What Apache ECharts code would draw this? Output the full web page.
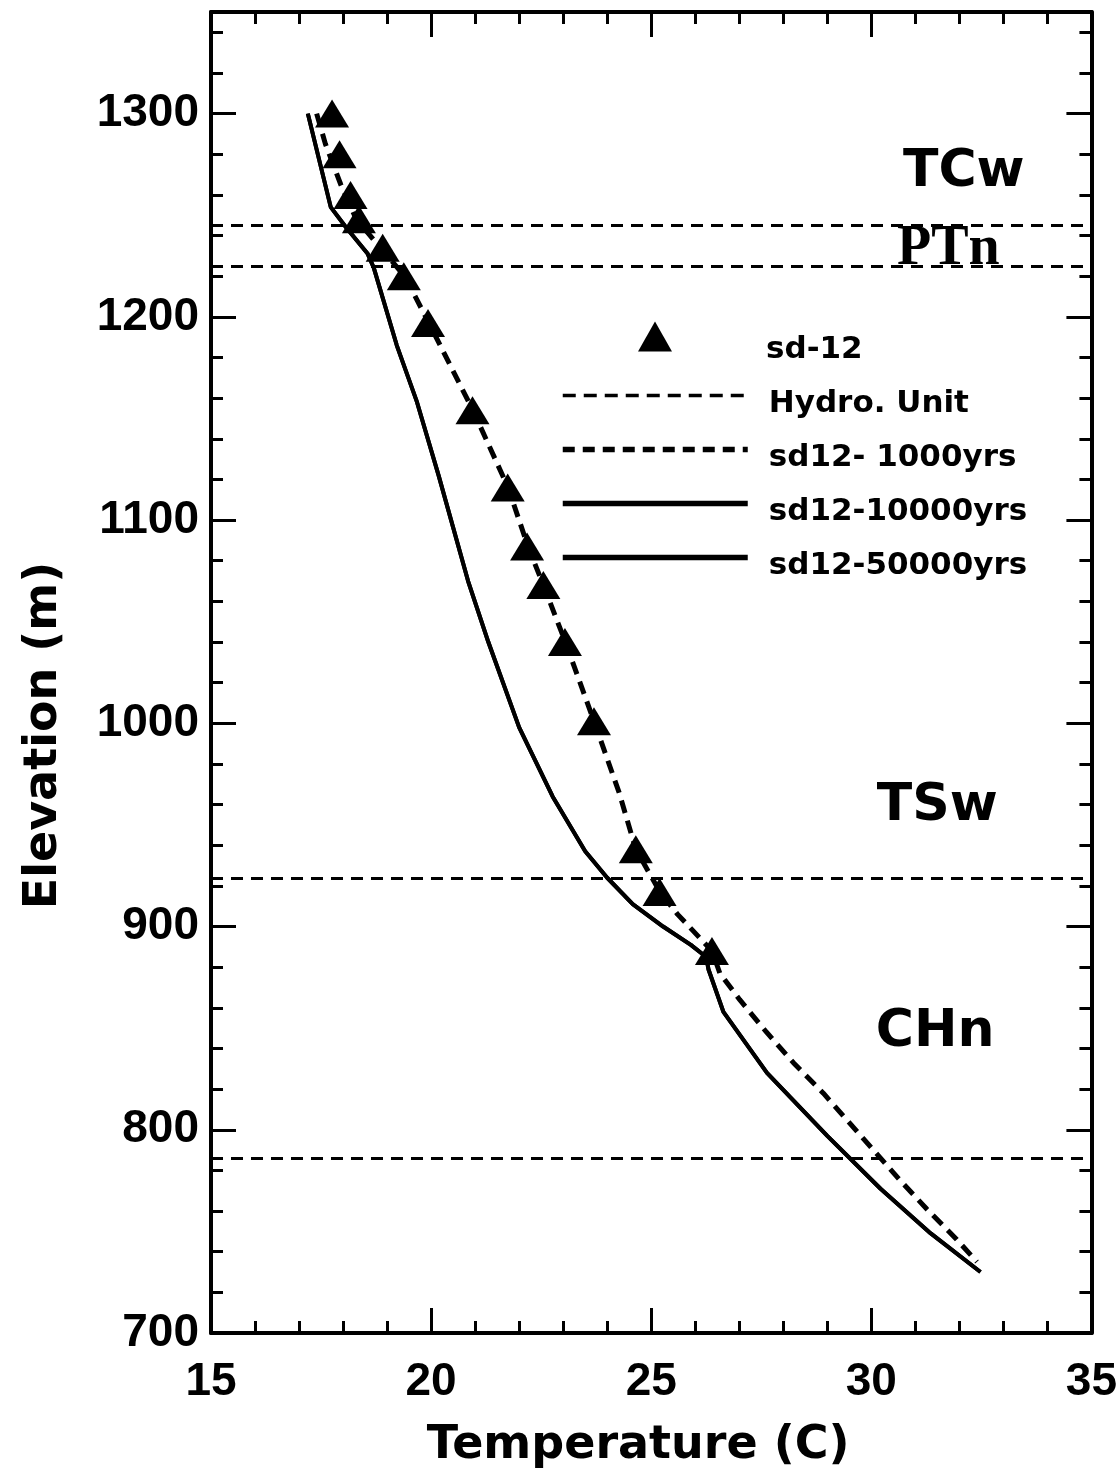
<!DOCTYPE html>
<html>
<head>
<meta charset="utf-8">
<title>Temperature vs Elevation, sd-12</title>
<script src="https://cdn.jsdelivr.net/npm/echarts@6/dist/echarts.min.js"></script>
<style>
  html, body { margin: 0; padding: 0; background: #fff; }
  #chart { width: 1120px; height: 1481px; }
</style>
</head>
<body>
<div id="chart"></div>
<script>
// measured temperatures (C) and elevations (m) at sd-12
const sd12Temp = [17.75, 17.92, 18.17, 18.36, 18.9, 19.38, 19.93, 20.94, 21.74, 22.18, 22.55, 23.04, 23.7, 24.65, 25.19, 26.38];
const sd12Elev = [1300, 1280, 1260, 1248, 1234, 1220, 1197, 1154, 1116, 1087, 1068, 1040, 1001, 938, 917, 888];

// simulated profile after 1000 years
const yr1000Temp = [17.4, 17.6, 17.95, 18.3, 18.85, 19.4, 19.95, 20.95, 21.75, 22.2, 22.55, 23.05, 23.7, 24.27, 24.65, 25.2, 25.6, 26.38, 26.56, 27.01, 27.62, 28.23, 28.91, 29.44, 30.05, 30.66, 31.26, 31.94, 32.4];
const yr1000Elev = [1300, 1285, 1265, 1248, 1234, 1220, 1197, 1154, 1116, 1087, 1068, 1040, 1001, 966, 938, 917, 906, 888, 877, 864, 848, 833, 818, 805, 790, 775, 761, 746, 735];

// simulated profile after 10000 years
const yr10000Temp = [17.2, 17.72, 18.07, 18.56, 18.7, 19.22, 19.68, 20.17, 20.84, 21.3, 22.0, 22.76, 23.5, 24.0, 24.58, 25.27, 25.9, 26.25, 26.3, 26.64, 27.63, 29.0, 30.21, 31.35, 32.48];
const yr10000Elev = [1300, 1254, 1244, 1231, 1224, 1186, 1158, 1122, 1070, 1040, 998, 964, 937, 924, 911, 900, 891, 885, 879, 858, 828, 797, 771, 749, 730];

// simulated profile after 50000 years (drawn on top of the 10000 yr curve)
const yr50000Temp = [17.2, 17.72, 18.07, 18.56, 18.7, 19.22, 19.68, 20.17, 20.84, 21.3, 22.0, 22.76, 23.5, 24.0, 24.58, 25.27, 25.9, 26.25, 26.3, 26.64, 27.63, 29.0, 30.21, 31.35, 32.48];
const yr50000Elev = [1300, 1254, 1244, 1231, 1224, 1186, 1158, 1122, 1070, 1040, 998, 964, 937, 924, 911, 900, 891, 885, 879, 858, 828, 797, 771, 749, 730];

// hydrogeologic unit boundaries (m)
const hydroBounds = [1245, 1225, 924, 786];

// unit names and where they sit
const unitNames = ['TCw', 'PTn', 'TSw', 'CHn'];
const unitTemp = [32.1, 31.75, 31.5, 31.45];
const unitElev = [1271, 1233, 959, 848];

const zip = (xs, ys) => xs.map((x, i) => [x, ys[i]]);

const sans = 'DejaVu Sans';
const tickFont = {
  fontFamily: 'Liberation Sans',
  fontWeight: 'bold',
  fontSize: 46,
  color: '#000',
};

const hydroDash = { color: '#000', width: 3, type: [12, 8] };
const run1000Dash = { color: '#000', width: 5, type: [13, 8] };

function makeAxis(dim, pos, showLabel) {
  const isX = dim === 'x';
  return {
    type: 'value',
    position: pos,
    min: isX ? 15 : 700,
    max: isX ? 35 : 1350,
    interval: isX ? 5 : 100,
    axisLine: { show: true, onZero: false, lineStyle: { color: '#000', width: 4 } },
    axisTick: { show: true, inside: true, length: 25, lineStyle: { color: '#000', width: 3 } },
    minorTick: { show: true, splitNumber: 5, length: 12, lineStyle: { color: '#000', width: 3 } },
    splitLine: { show: false },
    minorSplitLine: { show: false },
    axisLabel: {
      show: showLabel,
      margin: isX ? 26 : 12,
      ...tickFont,
      formatter: (v) => (v % (isX ? 5 : 100) === 0 ? String(v) : ''),
    },
  };
}

const xBottom = makeAxis('x', 'bottom', true);
xBottom.name = 'Temperature (C)';
xBottom.nameLocation = 'middle';
xBottom.nameGap = 90;
xBottom.nameTextStyle = { fontFamily: sans, fontWeight: 'bold', fontSize: 46, color: '#000', padding: [0, 26, 0, 0] };

const yLeft = makeAxis('y', 'left', true);
yLeft.name = 'Elevation (m)';
yLeft.nameLocation = 'middle';
yLeft.nameGap = 144;
yLeft.nameTextStyle = { fontFamily: sans, fontWeight: 'bold', fontSize: 46, color: '#000', padding: [0, 126, 0, 0] };

function legendText(padLeft, padTop) {
  return {
    color: '#000',
    rich: {
      t: {
        fontFamily: sans,
        fontWeight: 'bold',
        fontSize: 31,
        lineHeight: 31,
        color: '#000',
        padding: [padTop, 0, 0, padLeft],
      },
    },
  };
}

const chart = echarts.init(document.getElementById('chart'), null, { renderer: 'canvas' });

const option = {
  backgroundColor: '#fff',
  animation: false,
  grid: { left: 211, top: 12, width: 885, height: 1321, containLabel: false },
  xAxis: [xBottom, makeAxis('x', 'top', false)],
  yAxis: [yLeft, makeAxis('y', 'right', false)],
  legend: [
    {
      data: [{ name: 'sd-12', icon: 'triangle' }],
      orient: 'vertical',
      left: 633,
      top: 303,
      itemWidth: 34,
      itemHeight: 30,
      selectedMode: false,
      formatter: (n) => `{t|${n}}`,
      textStyle: legendText(89, 26),
    },
    {
      data: [
        { name: 'Hydro. Unit', lineStyle: { width: 3.5, type: [13, 8] } },
        { name: 'sd12- 1000yrs', lineStyle: { width: 5.5, type: [12, 8] } },
        { name: 'sd12-10000yrs', lineStyle: { width: 5.5 } },
        { name: 'sd12-50000yrs', lineStyle: { width: 5.5 } },
      ],
      orient: 'vertical',
      left: 555,
      top: 367,
      itemWidth: 185,
      itemHeight: 30,
      itemGap: 7,
      selectedMode: false,
      itemStyle: { opacity: 0 },
      formatter: (n) => `{t|${n}}`,
      textStyle: legendText(16, 16),
    },
  ],
  series: [
    {
      name: 'Hydro. Unit',
      type: 'line',
      data: [],
      symbol: 'none',
      lineStyle: hydroDash,
      itemStyle: { color: '#000' },
      markLine: {
        silent: true,
        symbol: ['none', 'none'],
        label: { show: false },
        lineStyle: hydroDash,
        data: hydroBounds.map((e) => ({ yAxis: e })),
      },
      z: 1,
    },
    {
      name: 'sd12- 1000yrs',
      type: 'line',
      data: zip(yr1000Temp, yr1000Elev),
      symbol: 'none',
      lineStyle: run1000Dash,
      itemStyle: { color: '#000' },
      z: 2,
    },
    {
      name: 'sd12-10000yrs',
      type: 'line',
      data: zip(yr10000Temp, yr10000Elev),
      symbol: 'none',
      lineStyle: { color: '#000', width: 4 },
      itemStyle: { color: '#000' },
      z: 3,
    },
    {
      name: 'sd12-50000yrs',
      type: 'line',
      data: zip(yr50000Temp, yr50000Elev),
      symbol: 'none',
      lineStyle: { color: '#000', width: 4 },
      itemStyle: { color: '#000' },
      z: 3,
    },
    {
      name: 'sd-12',
      type: 'scatter',
      data: zip(sd12Temp, sd12Elev),
      symbol: 'triangle',
      symbolSize: [34, 28],
      itemStyle: { color: '#000', opacity: 1 },
      z: 5,
    },
    {
      name: 'units',
      type: 'scatter',
      symbolSize: 0,
      silent: true,
      itemStyle: { color: '#000', opacity: 1 },
      data: unitNames.map((n, i) => ({
        value: [unitTemp[i], unitElev[i]],
        label: n === 'PTn' ? { fontFamily: 'Liberation Serif', fontSize: 56 } : {},
      })),
      label: {
        show: true,
        position: 'inside',
        formatter: (p) => unitNames[p.dataIndex],
        fontFamily: sans,
        fontWeight: 'bold',
        fontSize: 52,
        color: '#000',
        opacity: 1,
      },
      z: 4,
    },
  ],
};

chart.setOption(option);
</script>
</body>
</html>
